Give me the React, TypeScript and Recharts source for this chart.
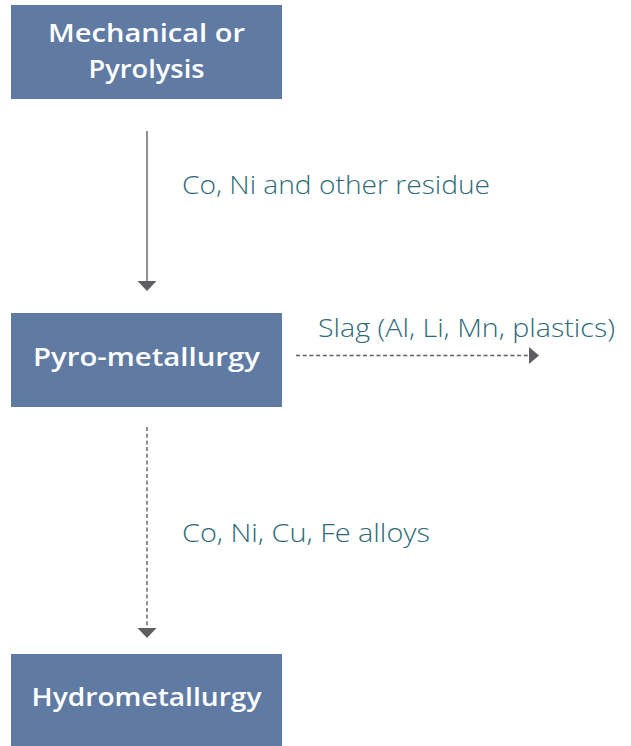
import React from "react";
import { ScatterChart, XAxis, YAxis, ReferenceArea, ReferenceLine, Scatter } from "recharts";

// Flow stages (boxes) in diagram units
const stageNames = ["Mechanical or|Pyrolysis", "Pyro-metallurgy", "Hydrometallurgy"];
const stageLeft = [11, 11, 11];
const stageRight = [282, 282, 282];
const stageTop = [5, 313, 654];
const stageBottom = [99, 407, 746];

// Flow arrows: start/end in diagram units
const flowLabels = ["Co, Ni and other residue", "Slag (Al, Li, Mn, plastics)", "Co, Ni, Cu, Fe alloys"];
const flowFrom = [
  { x: 147, y: 131 },
  { x: 296, y: 355.5 },
  { x: 147, y: 427 },
];
const flowTo = [
  { x: 147, y: 281 },
  { x: 529, y: 355.5 },
  { x: 147, y: 628 },
];
const flowDashed = [false, true, true];
const flowDir = ["down", "right", "down"];
const flowLabelAt = [
  { x: 182, y: 194 },
  { x: 318, y: 337 },
  { x: 182, y: 542 },
];

const BOX_FILL = "#5f7ba3";
const LINE = "#5f5f63";
const TEAL = "#2d6b79";
const FONT = "'Open Sans', 'DejaVu Sans', sans-serif";

const stageTextWidths = [[197, 116], [227], [230]];
const flowTextWidths = [308, 297, 248];

const stageTextData = stageNames.flatMap((name, i) => {
  const lines = name.split("|");
  const cy = (stageTop[i] + stageBottom[i]) / 2;
  const lh = 36;
  const off = lines.length > 1 ? 8 : 5.5;
  return lines.map((line, j) => ({
    x: (stageLeft[i] + stageRight[i]) / 2,
    y: cy + (j - (lines.length - 1) / 2) * lh + off,
    text: line,
    w: stageTextWidths[i][j],
  }));
});

const flowTextData = flowLabels.map((t, i) => ({
  x: flowLabelAt[i].x,
  y: flowLabelAt[i].y,
  text: t,
  w: flowTextWidths[i],
}));

const headData = flowTo.map((p, i) => ({ x: p.x, y: p.y, dir: flowDir[i] }));

const StageText = (props: any) => {
  const { cx, cy, payload } = props;
  return (
    <text
      x={cx}
      y={cy}
      textAnchor="middle"
      fill="#ffffff"
      fontFamily={FONT}
      fontWeight={600}
      fontSize={25}
      textLength={payload.w}
      lengthAdjust="spacingAndGlyphs"
    >
      {payload.text}
    </text>
  );
};

const FlowText = (props: any) => {
  const { cx, cy, payload } = props;
  return (
    <text
      x={cx}
      y={cy}
      textAnchor="start"
      fill={TEAL}
      fontFamily={FONT}
      fontWeight={300}
      fontSize={25}
      textLength={payload.w}
      lengthAdjust="spacingAndGlyphs"
    >
      {payload.text}
    </text>
  );
};

const Head = (props: any) => {
  const { cx, cy, payload } = props;
  let pts = "";
  if (payload.dir === "down") {
    pts = `${cx - 9.5},${cy} ${cx + 9.5},${cy} ${cx},${cy + 10}`;
  } else {
    pts = `${cx},${cy - 8.5} ${cx},${cy + 8.5} ${cx + 10},${cy}`;
  }
  return <polygon points={pts} fill={LINE} />;
};

export default function App() {
  return (
    <div style={{ position: "absolute", left: 0, top: 0, background: "#ffffff" }}>
      <ScatterChart width={631} height={746} margin={{ top: 0, right: 0, bottom: 0, left: 0 }}>
        <XAxis type="number" dataKey="x" domain={[0, 631]} hide allowDataOverflow />
        <YAxis type="number" dataKey="y" domain={[0, 746]} reversed hide allowDataOverflow />
        {stageNames.map((n, i) => (
          <ReferenceArea
            key={n}
            x1={stageLeft[i]}
            x2={stageRight[i]}
            y1={stageTop[i]}
            y2={stageBottom[i]}
            fill={BOX_FILL}
            fillOpacity={1}
            stroke="none"
            ifOverflow="visible"
          />
        ))}
        {flowLabels.map((l, i) => (
          <ReferenceLine
            key={l}
            segment={[flowFrom[i], flowTo[i]]}
            stroke={LINE}
            strokeWidth={1.4}
            strokeDasharray={flowDashed[i] ? "4 2.7" : undefined}
            ifOverflow="visible"
          />
        ))}
        <Scatter data={headData} shape={Head} isAnimationActive={false} />
        <Scatter data={stageTextData} shape={StageText} isAnimationActive={false} />
        <Scatter data={flowTextData} shape={FlowText} isAnimationActive={false} />
      </ScatterChart>
    </div>
  );
}
